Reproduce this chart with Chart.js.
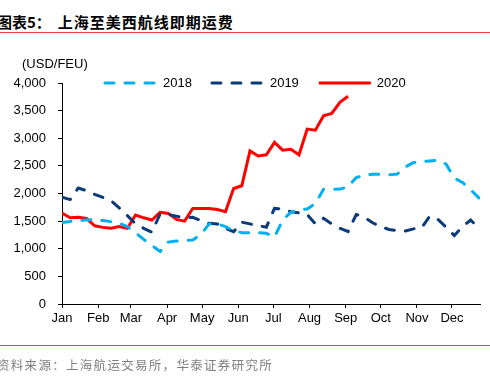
<!DOCTYPE html>
<html>
<head>
<meta charset="utf-8">
<script src="https://cdn.jsdelivr.net/npm/chart.js@4.4.1/dist/chart.umd.min.js"></script>
<style>
  html, body { margin: 0; padding: 0; background: #fff; }
  #wrap { position: relative; width: 490px; height: 378px; overflow: hidden; background: #fff; }
  #title { position: absolute; left: -3px; top: 11px; font: bold 15px "Noto Sans CJK SC", sans-serif; color: #000; white-space: pre; }
  #title span { letter-spacing: 1px; }
  .rule { position: absolute; left: 0; width: 490px; height: 0; border-top: 1.5px solid #e5473d; }
  #src { position: absolute; left: -3px; top: 355px; font: 12.5px "Noto Sans CJK SC", sans-serif; color: #7f7f7f; white-space: pre; letter-spacing: 1.3px; }
  #chart { position: absolute; left: 0; top: 0; }
</style>
</head>
<body>
<div id="wrap">
  <div id="title">图表5：  <span>上海至美西航线即期运费</span></div>
  <div class="rule" style="top:32px"></div>
  <canvas id="chart" width="490" height="378"></canvas>
  <div class="rule" style="top:345px"></div>
  <div id="src">资料来源：上海航运交易所，华泰证券研究所</div>
</div>
<script>
const $ = (id) => document.getElementById(id);

// month labels and the day of year each month starts on
const months = ['Jan', 'Feb', 'Mar', 'Apr', 'May', 'Jun', 'Jul', 'Aug', 'Sep', 'Oct', 'Nov', 'Dec'];
const monthStartDays = [0, 31, 59, 90, 120, 151, 181, 212, 243, 273, 304, 334];

// weekly spot rate, USD/FEU (one value per week from the first week of Jan)
const rates2018 = [
  1475, 1495, 1510, 1520, 1530, 1510, 1490, 1460, 1400, 1290,
  1170, 1060, 950, 1120, 1140, 1150, 1160, 1260, 1450, 1450,
  1400, 1330, 1290, 1290, 1290, 1280, 1210, 1520, 1660, 1700,
  1720, 1820, 2075, 2075, 2080, 2120, 2290, 2330, 2350, 2350,
  2340, 2350, 2480, 2560, 2575, 2590, 2600, 2530, 2280, 2200,
  2070, 1920
];
const rates2019 = [
  1935, 1890, 2100, 2050, 1985, 1930, 1870, 1740, 1600, 1450,
  1370, 1300, 1630, 1620, 1590, 1560, 1570, 1510, 1460, 1450,
  1370, 1310, 1480, 1450, 1420, 1390, 1730, 1720, 1670, 1650,
  1620, 1450, 1550, 1450, 1370, 1310, 1620, 1570, 1470, 1400,
  1350, 1330, 1320, 1360, 1380, 1590, 1530, 1390, 1240, 1400,
  1520, 1370
];
const rates2020 = [
  1645, 1560, 1570, 1550, 1415, 1387, 1370, 1400, 1370, 1610,
  1560, 1520, 1660, 1640, 1530, 1500, 1730, 1730, 1730, 1710,
  1670, 2090, 2140, 2770, 2680, 2700, 2925, 2785, 2800, 2700,
  3165, 3145, 3405, 3450, 3650, 3760
];

const seriesNames = ['2018', '2019', '2020'];
const yTicks = [0, 500, 1000, 1500, 2000, 2500, 3000, 3500, 4000];

function toPoints(values) {
  return values.map((v, i) => ({ x: i * 7, y: v }));
}

Chart.defaults.font.family = '"Liberation Sans", Arial, sans-serif';
Chart.defaults.font.size = 13;
Chart.defaults.color = '#000';

// legend + unit label drawn over the plot top, like the original
const overlayPlugin = {
  id: 'overlay',
  afterDraw(chart) {
    const ctx = chart.ctx;
    const top = chart.chartArea.top;
    ctx.save();
    ctx.font = '13px "Liberation Sans", Arial, sans-serif';
    ctx.fillStyle = '#000';
    ctx.textBaseline = 'middle';
    ctx.fillText('(USD/FEU)', 22, top - 19);

    let x = 105;
    chart.data.datasets.forEach(ds => {
      ctx.strokeStyle = ds.borderColor;
      ctx.lineWidth = ds.borderWidth;
      ctx.lineCap = ds.borderCapStyle || 'butt';
      ctx.setLineDash(ds.borderDash || []);
      ctx.beginPath();
      ctx.moveTo(x, top);
      ctx.lineTo(x + 52, top);
      ctx.stroke();
      ctx.setLineDash([]);
      ctx.fillText(ds.label, x + 58, top);
      x += 58 + ctx.measureText(ds.label).width + 20;
    });
    ctx.restore();
  }
};

new Chart($('chart').getContext('2d'), {
  type: 'line',
  data: {
    datasets: [
      {
        label: seriesNames[0],
        data: toPoints(rates2018),
        borderColor: '#00b0f0',
        borderWidth: 3,
        borderDash: [9, 11],
        borderCapStyle: 'round',
        pointRadius: 0,
        tension: 0,
      },
      {
        label: seriesNames[1],
        data: toPoints(rates2019),
        borderColor: '#0b3a78',
        borderWidth: 3,
        borderDash: [9, 11],
        borderCapStyle: 'round',
        pointRadius: 0,
        tension: 0,
      },
      {
        label: seriesNames[2],
        data: toPoints(rates2020),
        borderColor: '#ff0000',
        borderWidth: 3,
        borderCapStyle: 'butt',
        pointRadius: 0,
        tension: 0,
      }
    ]
  },
  options: {
    responsive: false,
    animation: false,
    devicePixelRatio: 1,
    layout: { padding: { top: 83, left: 0, right: 10, bottom: 44 } },
    plugins: {
      legend: { display: false },
      tooltip: { enabled: false }
    },
    scales: {
      x: {
        type: 'linear',
        min: 0,
        max: 358,
        afterBuildTicks: (scale) => {
          scale.ticks = monthStartDays.map(v => ({ value: v }));
        },
        afterFit: (scale) => { scale.height = 30; },
        ticks: {
          autoSkip: false,
          maxRotation: 0,
          padding: 3,
          callback: (value, index) => months[index],
        },
        grid: { drawOnChartArea: false, drawTicks: true, tickLength: 4, color: '#000' },
        border: { display: true, color: '#000', width: 1 }
      },
      y: {
        min: 0,
        max: 4000,
        afterBuildTicks: (scale) => {
          scale.ticks = yTicks.map(v => ({ value: v }));
        },
        afterFit: (scale) => { scale.width = 62; },
        ticks: {
          padding: 12,
          callback: (value) => value.toLocaleString('en-US'),
        },
        grid: { drawOnChartArea: false, drawTicks: true, tickLength: 4, color: '#000' },
        border: { display: true, color: '#000', width: 1 }
      }
    }
  },
  plugins: [overlayPlugin]
});
</script>
</body>
</html>
